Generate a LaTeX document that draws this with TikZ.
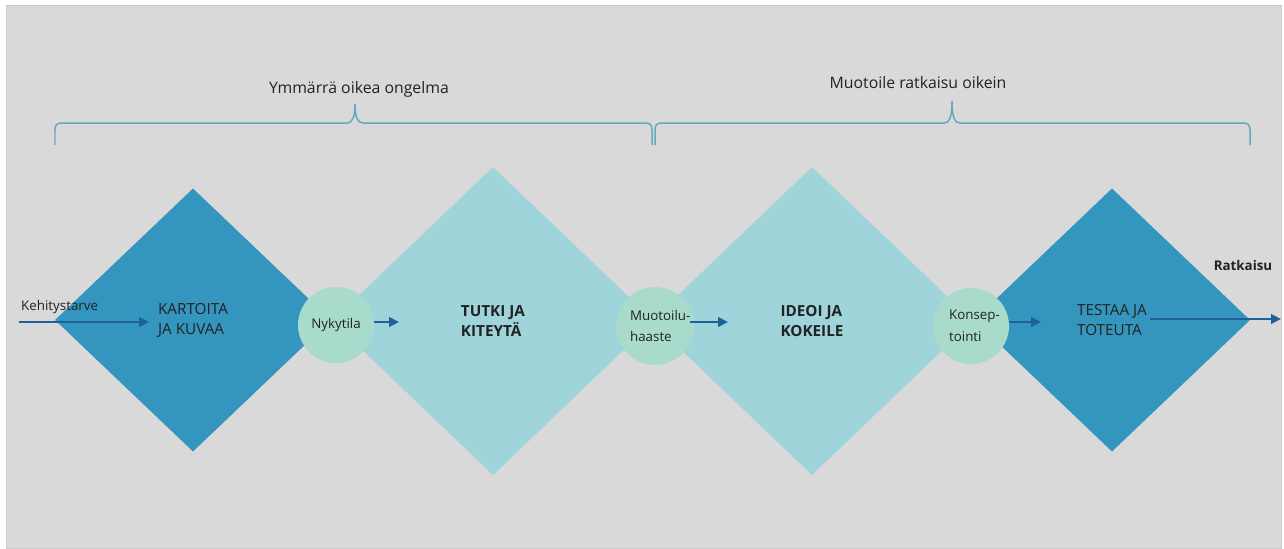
\documentclass[tikz,border=0pt]{standalone}
\usepackage{fontspec}
\setmainfont{Open Sans}
\usetikzlibrary{shapes.geometric,arrows.meta}

\definecolor{bggray}{RGB}{217,217,217}
\definecolor{dkblue}{RGB}{52,149,190}
\definecolor{ltteal}{RGB}{158,212,218}
\definecolor{palegreen}{RGB}{168,219,204}
\definecolor{flowblue}{RGB}{31,95,155}
\definecolor{bracecol}{RGB}{100,168,188}
\definecolor{txtgray}{RGB}{34,34,34}

\tikzset{
  dkdiamond/.style={diamond, fill=dkblue, inner sep=0pt, outer sep=0pt,
    minimum width=5.52cm, minimum height=5.26cm, align=left, text=txtgray,
    font=\fontsize{8.7}{11.4}\selectfont},
  ltdiamond/.style={diamond, fill=ltteal, inner sep=0pt, outer sep=0pt,
    minimum width=6.44cm, minimum height=6.16cm, align=left, text=txtgray,
    font=\fontsize{8.7}{11.4}\selectfont\bfseries},
  stagecircle/.style={circle, fill=palegreen, inner sep=0pt, outer sep=0pt,
    minimum size=1.52cm, align=left, text=txtgray,
    font=\fontsize{7.6}{12.5}\selectfont},
  flow/.style={draw=flowblue, line width=1.6pt,
    -{Triangle[length=2mm,width=1.9mm]}},
  bracestroke/.style={draw=bracecol, line width=0.85pt},
  bracelbl/.style={text=txtgray, font=\fontsize{9}{11}\selectfont}
}

\begin{document}
\begin{tikzpicture}[x=0.02cm, y=-0.02cm]

\useasboundingbox (0,0) rectangle (1284,548);
\fill[white] (0,0) rectangle (1284,548);
\draw[fill=bggray, draw=black!20, line width=0.4pt] (6,5) rectangle (1281,548);

% braces
\draw[bracestroke] (55,145) -- (55,130) .. controls (55,125) and (57,123) .. (62,123)
  -- (347,123) .. controls (352,123) and (355,118) .. (355,104)
  .. controls (355,118) and (358,123) .. (363,123)
  -- (645,123) .. controls (650,123) and (652,125) .. (652,130) -- (652,145);
\draw[bracestroke] (655,145) -- (655,130) .. controls (655,125) and (657,123) .. (662,123)
  -- (944,123) .. controls (949,123) and (952,118) .. (952,101)
  .. controls (952,118) and (955,123) .. (960,123)
  -- (1243,123) .. controls (1248,123) and (1250,125) .. (1250,130) -- (1250,145);

\node[bracelbl] (understand) at (359,89) {Ymmärrä oikea ongelma};
\node[bracelbl] (shape) at (918,83) {Muotoile ratkaisu oikein};

% diamonds
\node[dkdiamond] (map) at (193,320) {KARTOITA\\JA KUVAA};
\node[ltdiamond] (study) at (493,321) {TUTKI JA\\KITEYTÄ};
\node[ltdiamond] (ideate) at (812,321) {IDEOI JA\\KOKEILE};
\node[dkdiamond] (test) at (1112,320) {\mdseries TESTAA JA\\TOTEUTA};

% circles
\node[stagecircle] (now) at (336,325) {Nykytila};
\node[stagecircle] (challenge) at (655,326) {\hspace*{6pt}Muotoilu-\\\hspace*{6pt}haaste};
\node[stagecircle] (concept) at (971,326) {\hspace*{4pt}Konsep-\\\hspace*{4pt}tointi};

% arrows
\node[anchor=west, text=txtgray, font=\fontsize{7.6}{9}\selectfont] (need) at (15,307) {Kehitystarve};
\coordinate (needstart) at (19,322);
\coordinate (needend) at (149,322);
\draw[flow] (needstart) -- (needend);

\coordinate (nowend) at (399,322);
\draw[flow] (now.east |- nowend) -- (nowend);

\coordinate (challengestart) at (690,322);
\coordinate (challengeend) at (728,322);
\draw[flow] (challengestart) -- (challengeend);

\coordinate (conceptend) at (1041,322);
\draw[flow] (concept.east |- conceptend) -- (conceptend);

\coordinate (solstart) at (1150,319);
\coordinate (solend) at (1281,319);
\draw[flow] (solstart) -- (solend);
\node[text=txtgray, font=\fontsize{7.6}{9}\selectfont\bfseries] (solution) at (1243,265) {Ratkaisu};

\end{tikzpicture}
\end{document}
